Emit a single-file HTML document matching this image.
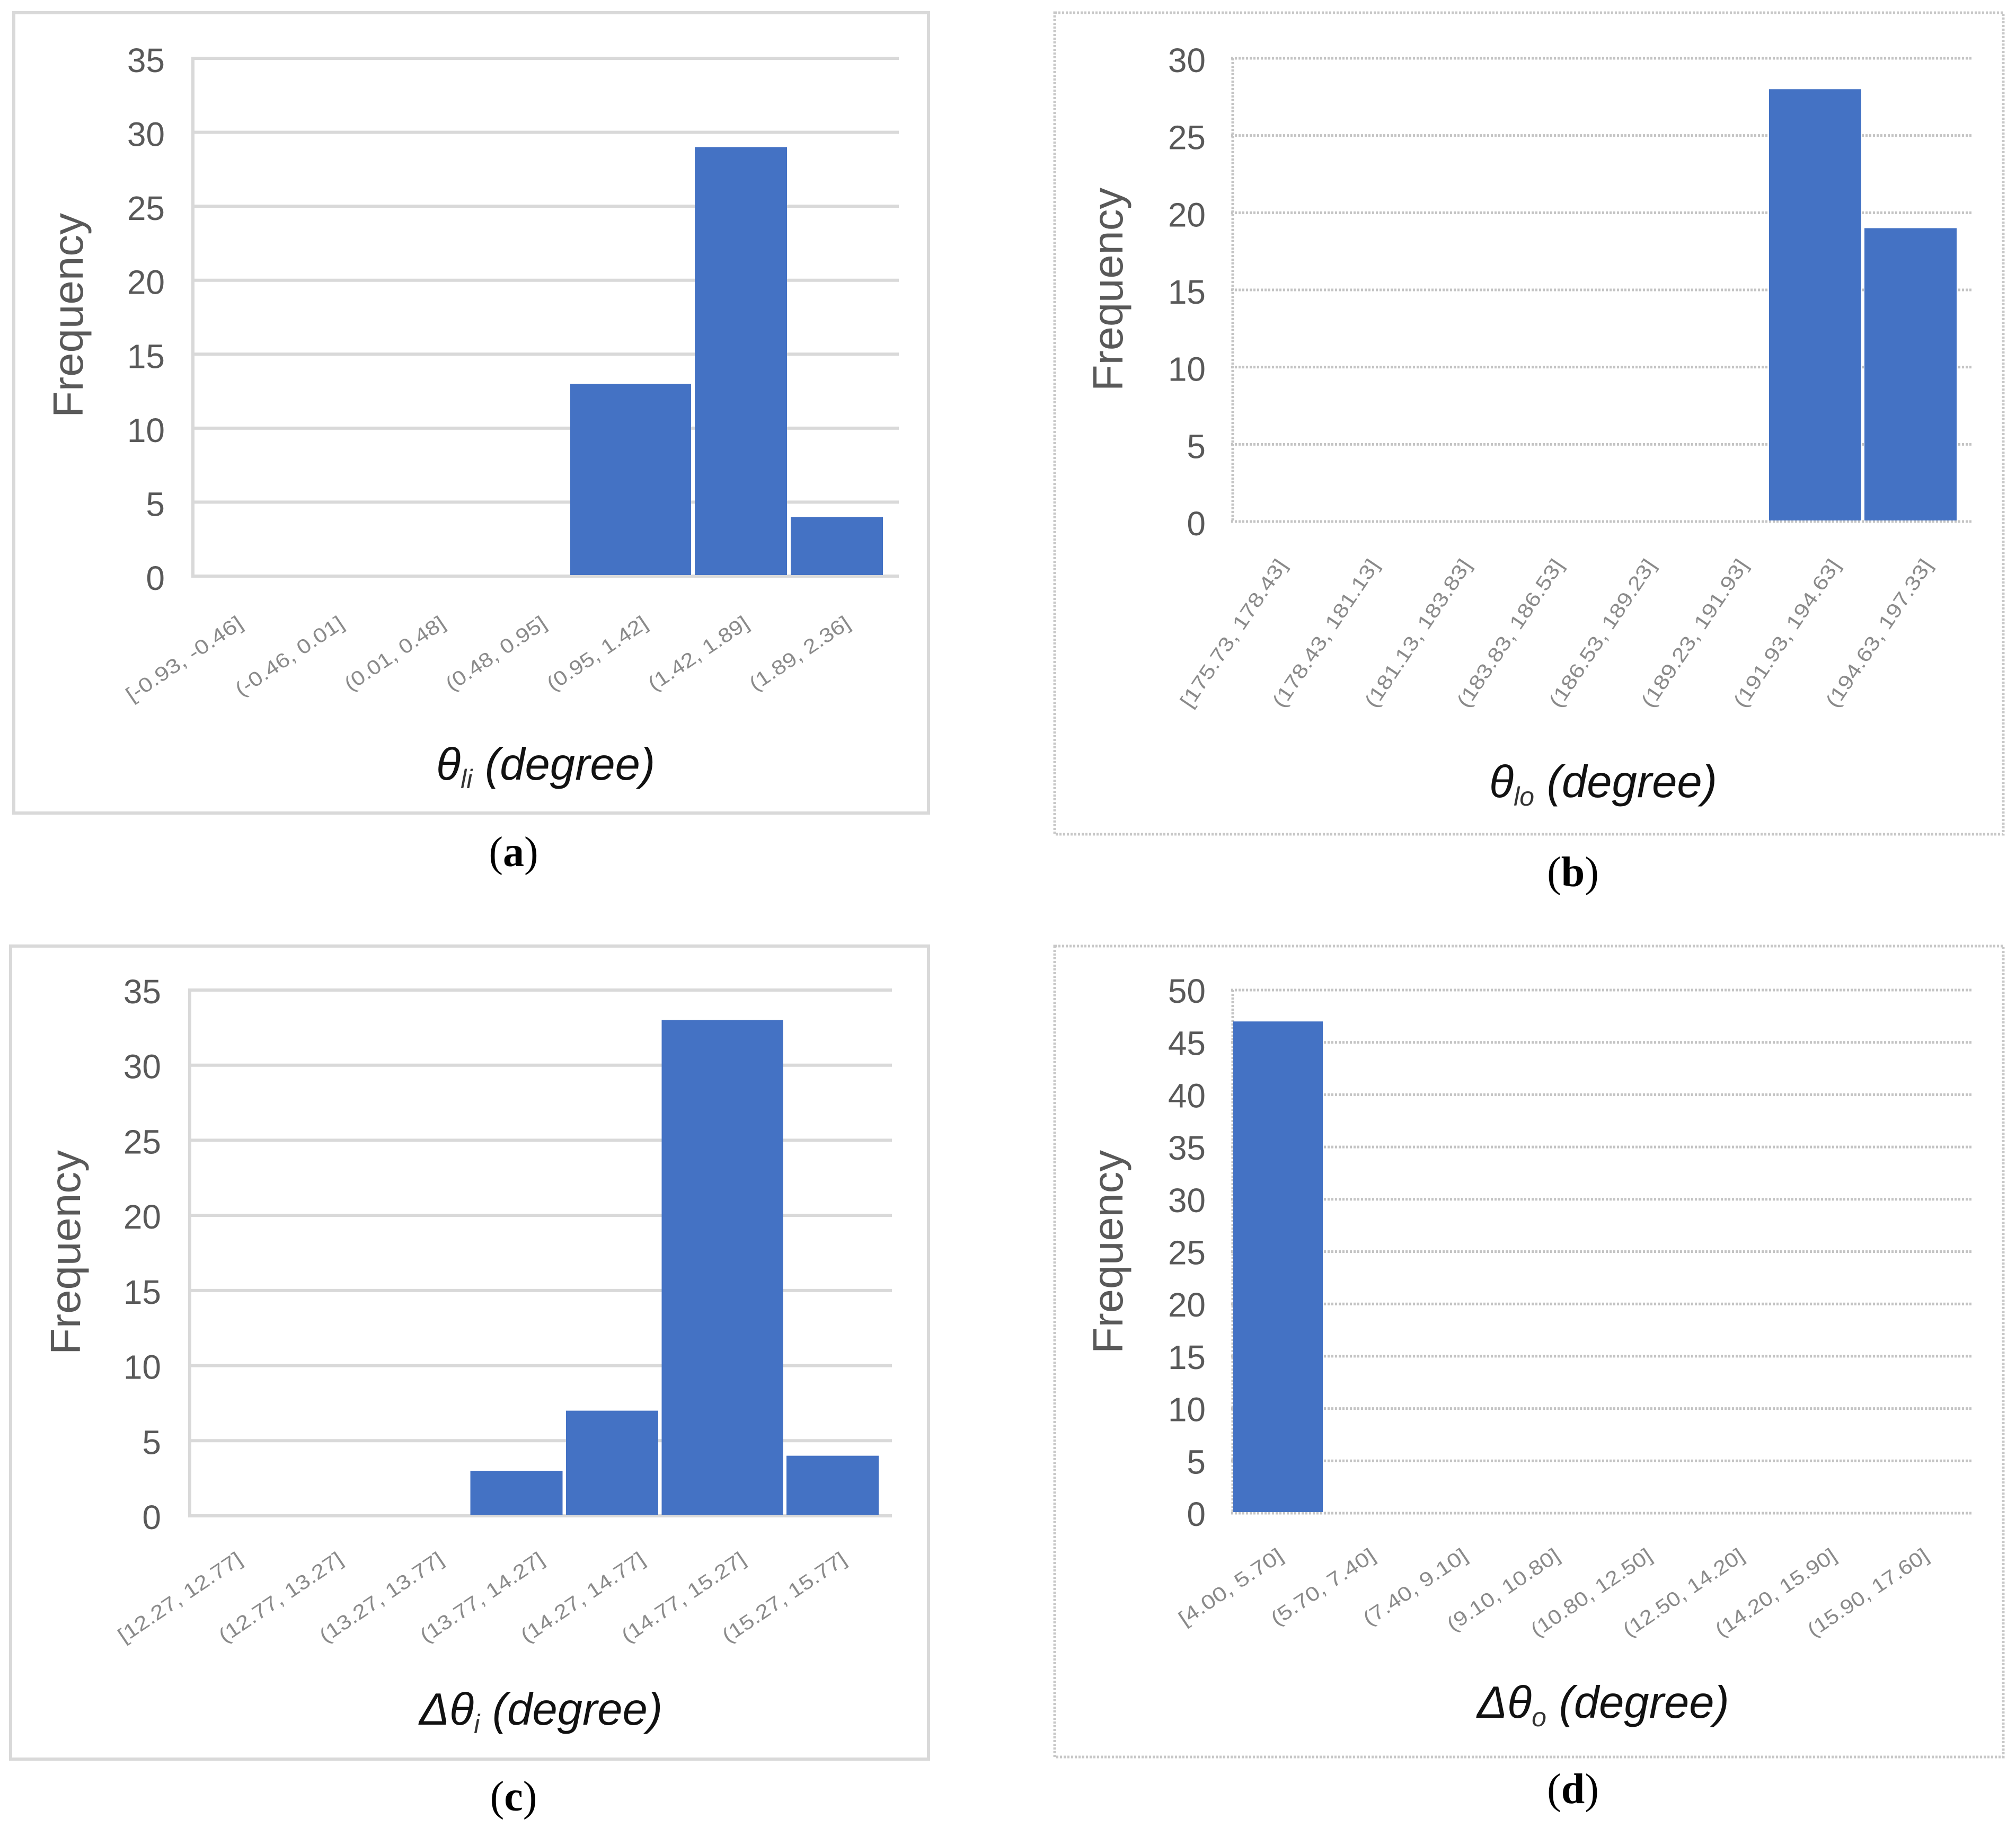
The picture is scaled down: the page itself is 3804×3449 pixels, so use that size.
<!DOCTYPE html>
<html lang="en">
<head>
<meta charset="utf-8">
<title>Histograms of angle measurements</title>
<style>
html,body{margin:0;padding:0;background:#fff;}
svg{display:block;}
text{font-family:"Liberation Sans",sans-serif;}
.tick{font-size:64px;fill:#595959;}
.ytitle{font-size:80px;fill:#595959;}
.xlabel{font-size:38px;fill:#8a8a8a;}
.xtitle{font-size:85px;font-style:italic;fill:#111;}
.sub{font-size:50px;fill:#333;}
.cap{font-family:"Liberation Serif",serif;font-size:80px;fill:#000;}
</style>
</head>
<body>
<svg id="figure" xmlns="http://www.w3.org/2000/svg" width="3804" height="3449" viewBox="0 0 3804 3449">
<rect x="0" y="0" width="3804" height="3449" fill="#fff"/>

<rect x="26" y="24" width="1726" height="1510" fill="none" stroke="#d9d9d9" stroke-width="6"/>
<rect x="1990" y="24" width="1790" height="1550" fill="none" stroke="#c8c8c8" stroke-width="5" stroke-dasharray="4 3"/>
<rect x="20" y="1785" width="1732" height="1534" fill="none" stroke="#d9d9d9" stroke-width="6"/>
<rect x="1990" y="1785" width="1790" height="1530" fill="none" stroke="#c8c8c8" stroke-width="5" stroke-dasharray="4 3"/>

<g id="plots"></g>

<text class="ytitle" text-anchor="middle" textLength="386" lengthAdjust="spacingAndGlyphs" transform="translate(156,595) rotate(-90)">Frequency</text>
<text class="ytitle" text-anchor="middle" textLength="384" lengthAdjust="spacingAndGlyphs" transform="translate(2118,546) rotate(-90)">Frequency</text>
<text class="ytitle" text-anchor="middle" textLength="386" lengthAdjust="spacingAndGlyphs" transform="translate(151,2363) rotate(-90)">Frequency</text>
<text class="ytitle" text-anchor="middle" textLength="384" lengthAdjust="spacingAndGlyphs" transform="translate(2118,2362) rotate(-90)">Frequency</text>

<text class="xtitle" x="823" y="1471">θ<tspan class="sub" dy="16">li</tspan><tspan dy="-16"> (degree)</tspan></text>
<text class="xtitle" x="2810" y="1504">θ<tspan class="sub" dy="16">lo</tspan><tspan dy="-16"> (degree)</tspan></text>
<text class="xtitle" x="791" y="3254">Δθ<tspan class="sub" dy="16">i</tspan><tspan dy="-16"> (degree)</tspan></text>
<text class="xtitle" x="2787" y="3241">Δθ<tspan class="sub" dy="16">o</tspan><tspan dy="-16"> (degree)</tspan></text>

<text class="cap" x="969" y="1634" text-anchor="middle">(<tspan font-weight="bold">a</tspan>)</text>
<text class="cap" x="2968" y="1672" text-anchor="middle">(<tspan font-weight="bold">b</tspan>)</text>
<text class="cap" x="969" y="3416" text-anchor="middle">(<tspan font-weight="bold">c</tspan>)</text>
<text class="cap" x="2968" y="3402" text-anchor="middle">(<tspan font-weight="bold">d</tspan>)</text>
</svg>

<script>
const categoriesA = ['[-0.93, -0.46]','(-0.46, 0.01]','(0.01, 0.48]','(0.48, 0.95]','(0.95, 1.42]','(1.42, 1.89]','(1.89, 2.36]'];
const valuesA = [0, 0, 0, 0, 13, 29, 4];
const ticksA = [0, 5, 10, 15, 20, 25, 30, 35];

const categoriesB = ['[175.73, 178.43]','(178.43, 181.13]','(181.13, 183.83]','(183.83, 186.53]','(186.53, 189.23]','(189.23, 191.93]','(191.93, 194.63]','(194.63, 197.33]'];
const valuesB = [0, 0, 0, 0, 0, 0, 28, 19];
const ticksB = [0, 5, 10, 15, 20, 25, 30];

const categoriesC = ['[12.27, 12.77]','(12.77, 13.27]','(13.27, 13.77]','(13.77, 14.27]','(14.27, 14.77]','(14.77, 15.27]','(15.27, 15.77]'];
const valuesC = [0, 0, 0, 3, 7, 33, 4];
const ticksC = [0, 5, 10, 15, 20, 25, 30, 35];

const categoriesD = ['[4.00, 5.70]','(5.70, 7.40]','(7.40, 9.10]','(9.10, 10.80]','(10.80, 12.50]','(12.50, 14.20]','(14.20, 15.90]','(15.90, 17.60]'];
const valuesD = [47, 0, 0, 0, 0, 0, 0, 0];
const ticksD = [0, 5, 10, 15, 20, 25, 30, 35, 40, 45, 50];

const NS = 'http://www.w3.org/2000/svg';
const plots = document.getElementById('plots');

function drawPanel(id, categories, values, ticks, L) {
  const g = document.createElementNS(NS, 'g');
  
  
  plots.appendChild(g);

  const maxTick = ticks[ticks.length - 1];
  const yScale = v => L.y0 - v * (L.y0 - L.yTop) / maxTick;

  // Bands are laid out from the right edge; one band may be wider (as in the source figure).
  const n = categories.length;
  const bandLeft = [], bandRight = [];
  let right = L.xEnd;
  for (let i = n - 1; i >= 0; i--) {
    const w = L.barW + (i === L.wideIndex ? L.wideExtra : 0);
    bandRight[i] = right;
    bandLeft[i] = right - w;
    right = bandLeft[i] - (L.step - L.barW);
  }

  // left axis line
  const axis = document.createElementNS(NS, 'line');
  
  
  axis.setAttribute('x1', L.left);
  axis.setAttribute('x2', L.left);
  axis.setAttribute('y1', yScale(maxTick));
  axis.setAttribute('y2', yScale(0));
  axis.setAttribute('stroke', L.gridColor);
  axis.setAttribute('stroke-width', L.gridW);
  if (L.dash) axis.setAttribute('stroke-dasharray', L.dash);
  g.appendChild(axis);

  ticks.forEach(t => {
    const line = document.createElementNS(NS, 'line');
    
    
    line.setAttribute('x1', L.left - 3);
    line.setAttribute('x2', L.right);
    line.setAttribute('y1', yScale(t));
    line.setAttribute('y2', yScale(t));
    line.setAttribute('stroke', L.gridColor);
    line.setAttribute('stroke-width', L.gridW);
    if (L.dash) line.setAttribute('stroke-dasharray', L.dash);
    g.appendChild(line);

    const label = document.createElementNS(NS, 'text');
    
    
    label.setAttribute('class', 'tick');
    label.setAttribute('x', L.tickX);
    label.setAttribute('y', yScale(t) + L.tickDy);
    label.setAttribute('text-anchor', 'end');
    label.textContent = String(t);
    g.appendChild(label);
  });

  values.forEach((v, i) => {
    const bar = document.createElementNS(NS, 'rect');
    
    
    bar.setAttribute('x', bandLeft[i]);
    bar.setAttribute('width', bandRight[i] - bandLeft[i]);
    const top = yScale(v);
    const bottom = yScale(0) - 2;
    bar.setAttribute('y', Math.min(top, bottom));
    bar.setAttribute('height', Math.max(0, bottom - top));
    bar.setAttribute('fill', '#4472c4');
    g.appendChild(bar);
  });

  categories.forEach((c, i) => {
    const x = L.labelX + i * L.labelStep;
    const t = document.createElementNS(NS, 'text');
    
    
    t.setAttribute('class', 'xlabel');
    t.setAttribute('text-anchor', 'end');
    t.setAttribute('x', x);
    t.setAttribute('y', L.labelY);
    t.setAttribute('textLength', c.length * L.charW);
    t.setAttribute('lengthAdjust', 'spacingAndGlyphs');
    t.setAttribute('transform', 'rotate(' + (-L.angle) + ' ' + x + ' ' + L.labelY + ')');
    t.textContent = c;
    g.appendChild(t);
  });
}

const solid = { gridColor: '#d9d9d9', gridW: 6, dash: null };
const dotted = { gridColor: '#c4c4c4', gridW: 5, dash: '4 3' };

drawPanel('a', categoriesA, valuesA, ticksA, Object.assign({
  left: 364, right: 1696, yTop: 110, y0: 1087, tickX: 311, tickDy: 26,
  xEnd: 1666, step: 181, barW: 174, wideIndex: 4, wideExtra: 54,
  labelX: 461, labelStep: 191, labelY: 1182, angle: 34, charW: 18.3
}, solid));

drawPanel('b', categoriesB, valuesB, ticksB, Object.assign({
  left: 2326, right: 3722, yTop: 110, y0: 984, tickX: 2275, tickDy: 26,
  xEnd: 3692, step: 180, barW: 174, wideIndex: -1, wideExtra: 0,
  labelX: 2430, labelStep: 174, labelY: 1066, angle: 56, charW: 20.5
}, dotted));

drawPanel('c', categoriesC, valuesC, ticksC, Object.assign({
  left: 358, right: 1683, yTop: 1868, y0: 2860, tickX: 304, tickDy: 25,
  xEnd: 1658, step: 180.5, barW: 174, wideIndex: 5, wideExtra: 55,
  labelX: 460, labelStep: 190, labelY: 2948, angle: 34, charW: 19.5
}, solid));

drawPanel('d', categoriesD, valuesD, ticksD, Object.assign({
  left: 2326, right: 3722, yTop: 1868, y0: 2855, tickX: 2275, tickDy: 24,
  xEnd: 2496 + 7 * 175, step: 175, barW: 169, wideIndex: -1, wideExtra: 0,
  labelX: 2424, labelStep: 174, labelY: 2941, angle: 34, charW: 19
}, dotted));
</script>
</body>
</html>
